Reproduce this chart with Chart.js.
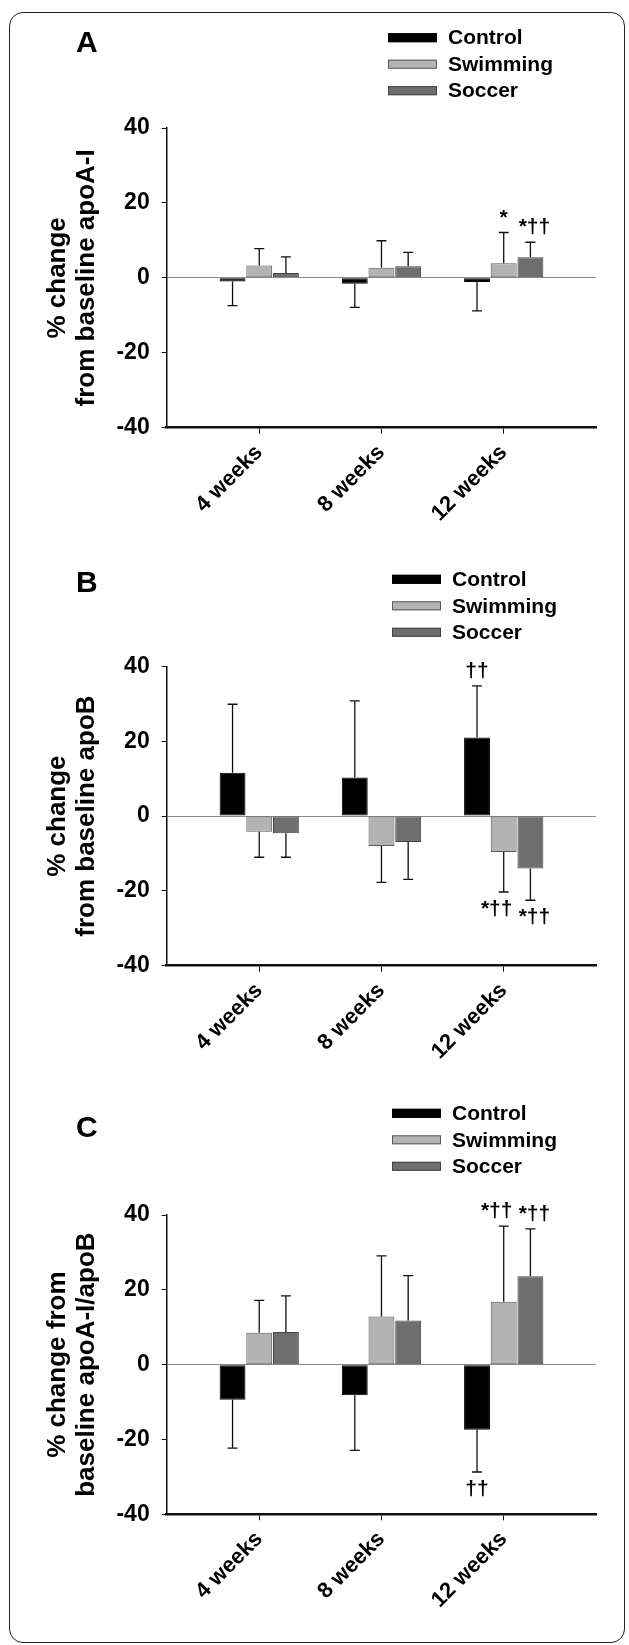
<html>
<head>
<meta charset="UTF-8"/>
<style>
html, body {
 width: 100%;
 height: 100%;
 margin: 0px;
 border: 0;
 overflow: hidden;
 background-color: #ffffff;
}
#frame {
 position: absolute;
 left: 9px; top: 12px;
 width: 614px; height: 1629px;
 border: 1.5px solid #222;
 border-radius: 14px;
}
canvas { position: absolute; left: 0px; }
</style>
<script src="https://cdn.jsdelivr.net/npm/chart.js@4.4.1/dist/chart.umd.min.js"></script>
<script type="text/javascript">
// categories and series
var categories = ['4 weeks', '8 weeks', '12 weeks'];
var seriesNames = ['Control', 'Swimming', 'Soccer'];
var yTicks = [-40, -20, 0, 20, 40];

// panel A: apoA-I
var apoAControl   = [-1.0, -1.6, -1.1];
var apoAControlSd = [6.4, 6.3, 7.7];
var apoASwim      = [3.3, 2.7, 3.9];
var apoASwimSd    = [4.5, 7.2, 8.2];
var apoASoccer    = [1.3, 3.1, 5.5];
var apoASoccerSd  = [4.3, 3.7, 4.0];
var apoAControlNotes = ['', '', ''];
var apoASwimNotes    = ['', '', '*'];
var apoASoccerNotes  = ['', '', '*††'];

// panel B: apoB
var apoBControl   = [11.6, 10.3, 21.0];
var apoBControlSd = [18.3, 20.5, 13.8];
var apoBSwim      = [-4.2, -8.0, -9.6];
var apoBSwimSd    = [6.8, 9.7, 10.7];
var apoBSoccer    = [-4.6, -6.9, -14.0];
var apoBSoccerSd  = [6.4, 10.0, 8.5];
var apoBControlNotes = ['', '', '††'];
var apoBSwimNotes    = ['', '', '*††'];
var apoBSoccerNotes  = ['', '', '*††'];

// panel C: apoA-I/apoB
var ratioControl   = [-9.4, -8.2, -17.4];
var ratioControlSd = [12.9, 14.7, 11.3];
var ratioSwim      = [8.5, 12.9, 16.8];
var ratioSwimSd    = [8.7, 16.2, 20.2];
var ratioSoccer    = [8.7, 11.8, 23.6];
var ratioSoccerSd  = [9.7, 12.0, 12.7];
var ratioControlNotes = ['', '', '††'];
var ratioSwimNotes    = ['', '', '*††'];
var ratioSoccerNotes  = ['', '', '*††'];

var fills   = ['#000000', '#b3b3b3', '#6e6e6e'];
var borders = ['#000000', '#5a5a5a', '#444444'];
var noteShift = [0, -7, 4];   // keeps neighbouring marks apart
var FONT = "'Liberation Sans', Arial, sans-serif";

function points(vals) {
    return vals.map(function(v, i) { return {x: i + 1, y: v}; });
}

function makeDatasets(vals, sds, notes) {
    return seriesNames.map(function(name, k) {
        return {
            label: name,
            data: points(vals[k]),
            errors: sds[k],
            notes: notes[k],
            backgroundColor: fills[k],
            borderColor: borders[k],
            borderWidth: 1,
            borderSkipped: false,
            categoryPercentage: 0.655,
            barPercentage: 0.97
        };
    });
}

// error bars, significance marks, legend and panel letter
var extras = {
    id: 'extras',
    afterDatasetsDraw: function(chart) {
        var ctx = chart.ctx, ys = chart.scales.y;
        ctx.save();
        chart.data.datasets.forEach(function(ds, di) {
            var meta = chart.getDatasetMeta(di);
            meta.data.forEach(function(bar, i) {
                var v = ds.data[i].y, e = ds.errors[i];
                var end = v >= 0 ? v + e : v - e;
                var y0 = ys.getPixelForValue(v), y1 = ys.getPixelForValue(end);
                ctx.strokeStyle = '#111';
                ctx.lineWidth = 1.3;
                ctx.beginPath();
                ctx.moveTo(bar.x, y0); ctx.lineTo(bar.x, y1);
                ctx.moveTo(bar.x - 5, y1); ctx.lineTo(bar.x + 5, y1);
                ctx.stroke();
                var note = ds.notes[i];
                if (note) {
                    var dx = note.length > 1 ? noteShift[di] : 0;
                    ctx.fillStyle = '#000';
                    ctx.font = 'bold 21px ' + FONT;
                    ctx.textAlign = 'center';
                    ctx.textBaseline = 'alphabetic';
                    ctx.fillText(note, bar.x + dx, v >= 0 ? y1 - 9 : y1 + 23);
                }
            });
        });
        ctx.restore();
    },
    afterDraw: function(chart, args, opts) {
        var ctx = chart.ctx;
        ctx.save();
        ctx.fillStyle = '#000';
        ctx.font = 'bold 30px ' + FONT;
        ctx.textAlign = 'left';
        ctx.textBaseline = 'middle';
        ctx.fillText(opts.letter, 76, opts.letterY);
        ctx.font = 'bold 21px ' + FONT;
        chart.data.datasets.forEach(function(ds, k) {
            var cy = opts.legendY + k * 26.5;
            ctx.fillStyle = ds.backgroundColor;
            ctx.fillRect(opts.legendX, cy - 4.5, 49, 9);
            ctx.strokeStyle = ds.borderColor;
            ctx.lineWidth = 1;
            ctx.strokeRect(opts.legendX + 0.5, cy - 4, 48, 8);
            ctx.fillStyle = '#000';
            ctx.fillText(ds.label, opts.legendX + 60, cy + 1);
        });
        ctx.restore();
    }
};

function makeChart(id, vals, sds, notes, title, p) {
    var ctx = document.getElementById(id).getContext('2d');
    return new Chart(ctx, {
        type: 'bar',
        data: { datasets: makeDatasets(vals, sds, notes) },
        plugins: [extras],
        options: {
            responsive: false,
            animation: false,
            layout: { padding: { top: p.top, right: 33, left: 0, bottom: 0 } },
            plugins: {
                legend: { display: false },
                tooltip: { enabled: false },
                extras: { letter: p.letter, letterY: p.letterY, legendX: p.legendX, legendY: p.legendY }
            },
            scales: {
                x: {
                    type: 'linear',
                    offset: false,
                    min: 0.243,
                    max: 3.755,
                    afterFit: function(s) { s.height = p.xHeight; },
                    afterBuildTicks: function(s) {
                        s.ticks = categories.map(function(c, i) { return {value: i + 1}; });
                    },
                    grid: { display: true, offset: false, drawOnChartArea: false, drawTicks: true,
                            tickLength: 6, tickColor: '#111', color: '#111' },
                    border: { display: true, color: '#111', width: 2.5 },
                    ticks: {
                        autoSkip: false,
                        minRotation: 45, maxRotation: 45,
                        padding: 6,
                        color: '#000',
                        font: { family: FONT, size: 22, weight: 'bold' },
                        callback: function(value, index) { return categories[index]; }
                    }
                },
                y: {
                    min: yTicks[0],
                    max: yTicks[yTicks.length - 1],
                    afterFit: function(s) { s.width = 166.7; },
                    grid: {
                        drawOnChartArea: true, drawTicks: true, tickLength: 5, tickColor: '#111',
                        lineWidth: 1,
                        color: function(c) { return c.tick && c.tick.value === 0 ? '#8a8a8a' : 'rgba(0,0,0,0)'; }
                    },
                    border: { display: true, color: '#111', width: 1.5 },
                    ticks: {
                        stepSize: 20,
                        padding: 12,
                        color: '#000',
                        font: { family: FONT, size: 23, weight: 'bold' }
                    },
                    title: {
                        display: true,
                        text: title,
                        color: '#000',
                        padding: { top: 43.7, bottom: 0 },
                        font: { family: FONT, size: 26, weight: 'bold', lineHeight: 1.1 }
                    }
                }
            }
        }
    });
}

function init() {
    makeChart('chartA',
        [apoAControl, apoASwim, apoASoccer],
        [apoAControlSd, apoASwimSd, apoASoccerSd],
        [apoAControlNotes, apoASwimNotes, apoASoccerNotes],
        ['% change', 'from baseline apoA-I'],
        {top: 128, xHeight: 117.3, letter: 'A', letterY: 44, legendX: 388, legendY: 37.7});
    makeChart('chartB',
        [apoBControl, apoBSwim, apoBSoccer],
        [apoBControlSd, apoBSwimSd, apoBSoccerSd],
        [apoBControlNotes, apoBSwimNotes, apoBSoccerNotes],
        ['% change', 'from baseline apoB'],
        {top: 126.5, xHeight: 114.3, letter: 'B', letterY: 44, legendX: 392, legendY: 39.3});
    makeChart('chartC',
        [ratioControl, ratioSwim, ratioSoccer],
        [ratioControlSd, ratioSwimSd, ratioSoccerSd],
        [ratioControlNotes, ratioSwimNotes, ratioSoccerNotes],
        ['% change from', 'baseline apoA-I/apoB'],
        {top: 140, xHeight: 130.7, letter: 'C', letterY: 53.3, legendX: 392, legendY: 38.3});
}
</script>
<title>apo changes</title>
</head>
<body onload="JavaScript:init();">
<div id="frame"></div>
<canvas id="chartA" width="629" height="545" style="top:0px"></canvas>
<canvas id="chartB" width="629" height="540" style="top:540px"></canvas>
<canvas id="chartC" width="629" height="570" style="top:1075px"></canvas>
</body>
</html>
